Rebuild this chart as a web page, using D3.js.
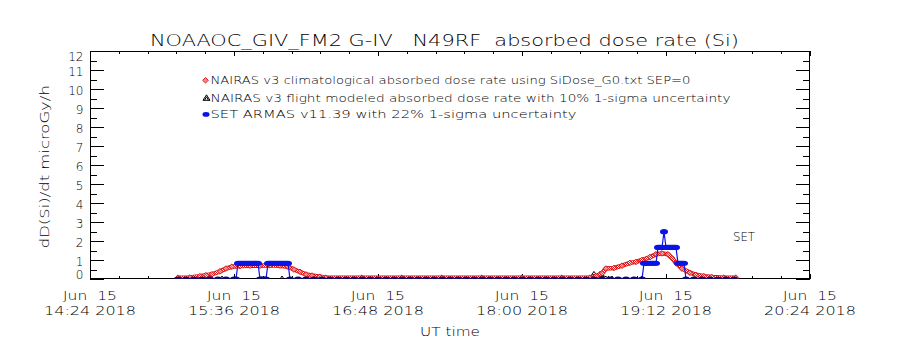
<!DOCTYPE html>
<html><head><meta charset="utf-8">
<script src="https://cdn.jsdelivr.net/npm/d3@7"></script>
<style>
html,body{margin:0;padding:0;background:#fff;}
svg{display:block;}
text{font-family:"DejaVu Sans",sans-serif;font-weight:200;fill:#000;white-space:pre;}
</style></head><body>
<svg id="c" width="900" height="350"></svg>
<script>
// ---------------- data ----------------
const titleText = "NOAAOC_GIV_FM2 G-IV   N49RF  absorbed dose rate (Si)";
const yAxisTitle = "dD(Si)/dt microGy/h";
const xAxisTitle = "UT time";
const setLabel = "SET";
const legendLabels = [
  "NAIRAS v3 climatological absorbed dose rate using SiDose_G0.txt SEP=0",
  "NAIRAS v3 flight modeled absorbed dose rate with 10% 1-sigma uncertainty",
  "SET ARMAS v11.39 with 22% 1-sigma uncertainty"
];
const xDomain = ["14:24", "20:24"];
const xTickTimes = ["14:24", "15:36", "16:48", "18:00", "19:12", "20:24"];
const xTickDay = "Jun  15";
const xTickYear = "2018";
const yTickValues = [0,1,2,3,4,5,6,7,8,9,10,11,12];
const yTickLabels = ["0","1","2","3","4","5","6","7","8","9","10","11","12"];

// NAIRAS v3 climatological (red diamonds): [UT time, microGy/h]
const nairasClim = [
  ["15:08",0.07],["15:14",0.08],["15:19",0.15],["15:22",0.2],["15:25",0.25],["15:29",0.4],
  ["15:32",0.55],["15:35",0.65],["15:39",0.68],["15:44",0.7],["15:49",0.7],["15:54",0.72],
  ["15:59",0.7],["16:03",0.65],["16:06",0.5],["16:09",0.38],["16:12",0.24],["16:15",0.18],
  ["16:19",0.12],["16:22",0.07],["16:40",0.07],["17:00",0.07],["17:20",0.07],["17:40",0.07],
  ["18:00",0.07],["18:20",0.07],["18:34",0.07],["18:37",0.15],["18:40",0.3],["18:42",0.55],
  ["18:46",0.58],["18:50",0.7],["18:54",0.85],["18:57",0.9],["19:00",1.0],["19:04",1.15],
  ["19:07",1.3],["19:10",1.35],["19:13",1.3],["19:15",1.1],["19:17",0.85],["19:20",0.55],
  ["19:24",0.33],["19:27",0.22],["19:31",0.15],["19:35",0.1],["19:41",0.07],["19:47",0.07]
];

// NAIRAS v3 flight modeled (black triangles)
const nairasFlight = [
  ["15:08",0],["15:30",0],["16:00",0],["16:30",0],["17:00",0],["17:30",0],["18:00",0],
  ["18:30",0],["18:36",0.24],["18:39",0.24],["18:45",0],["19:00",0],["19:30",0],["19:47",0]
];

// SET ARMAS v11.39 (blue)
const setArmas = [
  ["15:08",0],["15:12",0],["15:16",0],["15:20",0],["15:24",0],["15:28",0],["15:32",0],["15:36",0],["15:37",0],
  ["15:38",0.83],["15:39",0.83],["15:40",0.83],["15:41",0.83],["15:42",0.83],["15:43",0.83],
  ["15:44",0.83],["15:45",0.83],["15:46",0.83],["15:47",0.83],["15:48",0.83],
  ["15:49",0],["15:50",0],["15:51",0],["15:52",0],
  ["15:53",0.83],["15:54",0.83],["15:55",0.83],["15:56",0.83],["15:57",0.83],["15:58",0.83],
  ["15:59",0.83],["16:00",0.83],["16:01",0.83],["16:02",0.83],["16:03",0.83],
  ["16:04",0],["16:08",0],["16:12",0],["16:16",0],["16:20",0],["16:24",0],["16:28",0],["16:32",0],
  ["16:36",0],["16:40",0],["16:44",0],["16:48",0],["16:52",0],["16:56",0],["17:00",0],["17:04",0],
  ["17:08",0],["17:12",0],["17:16",0],["17:20",0],["17:24",0],["17:28",0],["17:32",0],["17:36",0],
  ["17:40",0],["17:44",0],["17:48",0],["17:52",0],["17:56",0],["18:00",0],["18:04",0],["18:08",0],
  ["18:12",0],["18:16",0],["18:20",0],["18:24",0],["18:28",0],["18:32",0],["18:36",0],["18:40",0],
  ["18:44",0],["18:48",0],["18:52",0],["18:56",0],["19:00",0],
  ["19:01",0.83],["19:02",0.83],["19:03",0.83],["19:04",0.83],["19:05",0.83],["19:06",0.83],["19:07",0.83],
  ["19:08",1.66],["19:09",1.66],["19:10",1.66],["19:11",2.49],["19:12",1.66],["19:13",1.66],
  ["19:14",1.66],["19:15",1.66],["19:16",1.66],["19:17",1.66],
  ["19:18",0.83],["19:19",0.83],["19:20",0.83],["19:21",0.83],
  ["19:22",0],["19:26",0],["19:30",0],["19:34",0],["19:38",0],["19:42",0],["19:46",0]
];

// ---------------- drawing ----------------
const svg = d3.select("#c");
const P = {l: 90, r: 810, t: 51, b: 279};
const parseT = s => new Date(`2018-06-15T${s}:00Z`);
const x = d3.scaleUtc().domain(xDomain.map(parseT)).range([P.l, P.r]);
const y = d3.scaleLinear().domain([0, 12]).range([P.b, P.t]);

const defs = svg.append("defs");
const pat = defs.append("pattern").attr("id", "chk").attr("patternUnits", "userSpaceOnUse")
  .attr("width", 2).attr("height", 2);
pat.append("rect").attr("width", 2).attr("height", 2).attr("fill", "#ffffff");
pat.append("rect").attr("width", 1).attr("height", 1).attr("fill", "#e01010");
pat.append("rect").attr("x", 1).attr("y", 1).attr("width", 1).attr("height", 1).attr("fill", "#e01010");
defs.append("clipPath").attr("id", "clip").append("rect")
  .attr("x", P.l).attr("y", P.t).attr("width", P.r - P.l).attr("height", P.b - P.t);

// axes (ticks only; frame drawn separately)
const minorX = d3.range(0, 361, 14.4).map(m => new Date(+x.domain()[0] + m * 60000));
const majorX = xTickTimes.map(parseT);
const minorY = d3.range(0.5, 12, 1);

function styleAxis(g) {
  g.select(".domain").remove();
  g.selectAll("line").attr("stroke", "#000").attr("shape-rendering", "crispEdges");
}
svg.append("g").attr("transform", `translate(0,${P.b})`)
  .call(d3.axisBottom(x).tickValues(minorX).tickSize(-3).tickFormat("")).call(styleAxis);
svg.append("g").attr("transform", `translate(0,${P.b})`)
  .call(d3.axisBottom(x).tickValues(majorX).tickSize(-5).tickFormat("")).call(styleAxis);
svg.append("g").attr("transform", `translate(0,${P.t})`)
  .call(d3.axisTop(x).tickValues(minorX).tickSize(-3).tickFormat("")).call(styleAxis);
svg.append("g").attr("transform", `translate(0,${P.t})`)
  .call(d3.axisTop(x).tickValues(majorX).tickSize(-5).tickFormat("")).call(styleAxis);
svg.append("g").attr("transform", `translate(${P.l},0)`)
  .call(d3.axisLeft(y).tickValues(yTickValues).tickSize(-14.4).tickFormat("")).call(styleAxis);
svg.append("g").attr("transform", `translate(${P.l},0)`)
  .call(d3.axisLeft(y).tickValues(minorY).tickSize(-7.2).tickFormat("")).call(styleAxis);
svg.append("g").attr("transform", `translate(${P.r},0)`)
  .call(d3.axisRight(y).tickValues(yTickValues).tickSize(-14.4).tickFormat("")).call(styleAxis);
svg.append("g").attr("transform", `translate(${P.r},0)`)
  .call(d3.axisRight(y).tickValues(minorY).tickSize(-7.2).tickFormat("")).call(styleAxis);

svg.append("rect").attr("x", P.l + 0.5).attr("y", P.t + 0.5)
  .attr("width", P.r - P.l - 1).attr("height", P.b - P.t - 1)
  .attr("fill", "none").attr("stroke", "#000").attr("stroke-width", 1);

// y tick labels (clamped inside the frame like the original)
svg.append("g").selectAll("text").data(yTickValues).join("text")
  .attr("x", 83.5).attr("text-anchor", "end").attr("font-size", 12)
  .attr("y", (d) => {
    let c = y(d) + 1.3;            // label centre
    c = Math.max(c, P.t + 6);      // keep top label inside
    c = Math.min(c, P.b - 4.5);    // keep bottom label inside
    return c + 4.3;                // baseline
  })
  .text((d, i) => yTickLabels[i]);

// x tick labels
const xl = svg.append("g").selectAll("text").data(majorX).join("text")
  .attr("text-anchor", "middle").attr("font-size", 12);
xl.append("tspan").attr("x", d => x(d)).attr("y", 299.5)
  .attr("textLength", 54).attr("lengthAdjust", "spacingAndGlyphs").text(xTickDay);
xl.append("tspan").attr("x", d => x(d)).attr("y", 315)
  .attr("textLength", 92).attr("lengthAdjust", "spacingAndGlyphs")
  .text((d, i) => `${xTickTimes[i]} ${xTickYear}`);

// titles
svg.append("text").attr("x", 444.5).attr("y", 45.5).attr("text-anchor", "middle")
  .attr("font-size", 16).attr("textLength", 589).attr("lengthAdjust", "spacingAndGlyphs")
  .text(titleText);
svg.append("text").attr("transform", "translate(49,166.7) rotate(-90)").attr("text-anchor", "middle")
  .attr("font-size", 13).attr("textLength", 163).attr("lengthAdjust", "spacingAndGlyphs")
  .text(yAxisTitle);
svg.append("text").attr("x", 450).attr("y", 336).attr("text-anchor", "middle")
  .attr("font-size", 12.5).attr("textLength", 60).attr("lengthAdjust", "spacingAndGlyphs")
  .text(xAxisTitle);
svg.append("text").attr("x", 733).attr("y", 240.7)
  .attr("font-size", 12.5).attr("textLength", 22).attr("lengthAdjust", "spacingAndGlyphs")
  .text(setLabel);

// data layers
const plot = svg.append("g").attr("clip-path", "url(#clip)");
const line = d3.line().x(d => x(parseT(d[0]))).y(d => y(d[1]));
const diamond = "M0,-2.8L2.8,0L0,2.8L-2.8,0Z";
const triangle = "M0,-3L3.5,2.2L-3.5,2.2Z";

// black flight modeled (drawn first, mostly hidden under the other series)
plot.append("path").datum(nairasFlight).attr("d", line).attr("fill", "none")
  .attr("stroke", "#000").attr("stroke-width", 1);
plot.append("g").selectAll("path").data(nairasFlight).join("path")
  .attr("d", triangle)
  .attr("transform", d => `translate(${x(parseT(d[0]))},${y(d[1])})`)
  .attr("fill", "none").attr("stroke", "#000").attr("stroke-width", 1);

// red climatological
plot.append("path").datum(nairasClim).attr("d", line).attr("fill", "none")
  .attr("stroke", "#d01010").attr("stroke-width", 4.5).attr("stroke-linejoin", "round");
plot.append("path").datum(nairasClim).attr("d", line).attr("fill", "none")
  .attr("stroke", "url(#chk)").attr("stroke-width", 2.8).attr("stroke-linejoin", "round");
plot.append("g").selectAll("path").data(nairasClim).join("path")
  .attr("d", diamond)
  .attr("transform", d => `translate(${x(parseT(d[0]))},${y(d[1])})`)
  .attr("fill", "url(#chk)").attr("stroke", "#e01010").attr("stroke-width", 0.9);

// blue SET ARMAS
plot.append("path").datum(setArmas).attr("d", line).attr("fill", "none")
  .attr("stroke", "#0a14e6").attr("stroke-width", 1.2);
plot.append("g").selectAll("ellipse").data(setArmas).join("ellipse")
  .attr("cx", d => x(parseT(d[0]))).attr("cy", d => y(d[1]))
  .attr("rx", 4).attr("ry", 2.6)
  .attr("fill", d => d[1] === 0 ? "#0a0a70" : "#0a14e6");

// legend
const legY = [80.3, 97.8, 114.4];
const legLen = [480, 520, 366];
const lg = svg.append("g");
lg.append("path").attr("d", diamond).attr("transform", `translate(205.5,${legY[0]})`)
  .attr("fill", "url(#chk)").attr("stroke", "#e01010").attr("stroke-width", 0.9);
lg.append("path").attr("d", "M0,-3L3.5,2.5L-3.5,2.5Z M0,-1L2,2.5 M0,-1L-2,2.5")
  .attr("transform", `translate(206.5,${legY[1]})`)
  .attr("fill", "none").attr("stroke", "#000").attr("stroke-width", 1);
lg.append("ellipse").attr("cx", 206).attr("cy", legY[2]).attr("rx", 3.5).attr("ry", 2.3)
  .attr("fill", "#0a14e6");
lg.selectAll("text").data(legendLabels).join("text")
  .attr("x", 210.5).attr("y", (d, i) => legY[i] + 4)
  .attr("font-size", 11).attr("textLength", (d, i) => legLen[i])
  .attr("lengthAdjust", "spacingAndGlyphs").text(d => d);
</script>
</body></html>
